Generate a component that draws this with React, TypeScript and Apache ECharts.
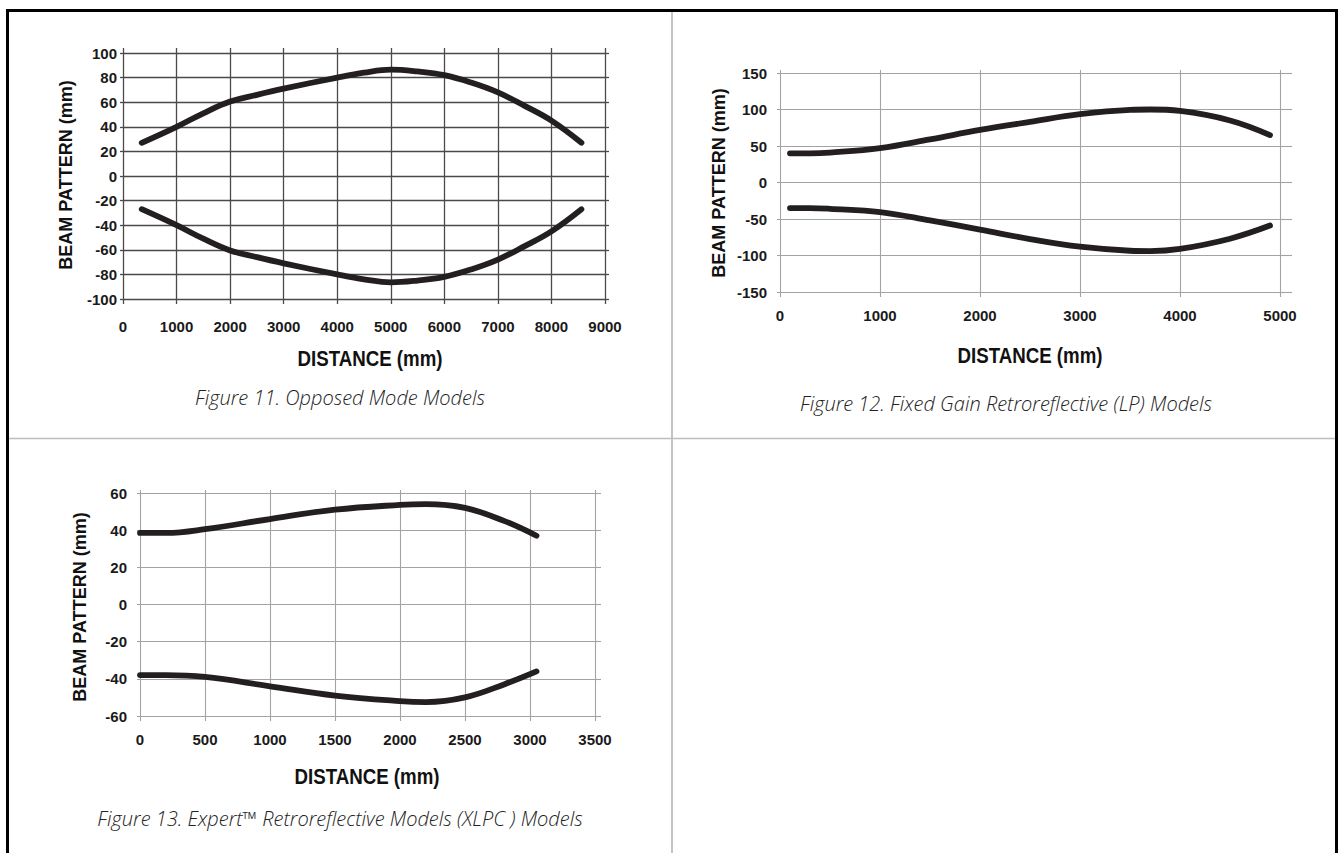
import React, { useEffect, useRef } from "react";
import * as echarts from "echarts";

// ---------- Data ----------
// Figure 11. Opposed Mode Models
const fig11Distance = [350, 1000, 1500, 2000, 2500, 3000, 4000, 4500, 5000, 5500, 6000, 6500, 7000, 7500, 8000, 8560];
const fig11Upper = [27, 40, 51, 60.5, 66, 71, 80, 84, 86.5, 85, 82, 76, 68, 57, 45, 27];
const fig11Lower = [-27, -40, -51, -60.5, -66, -71, -80, -84, -86.5, -85, -82, -76, -68, -57, -45, -27];

// Figure 12. Fixed Gain Retroreflective (LP) Models
const fig12Distance = [100, 300, 500, 1000, 1500, 2000, 2500, 3000, 3500, 3700, 4000, 4500, 4900];
const fig12Upper = [40, 40, 41, 47, 59, 72, 83, 93.5, 99.5, 100, 98, 85, 65];
const fig12Lower = [-35, -35, -36, -40.5, -52, -64.5, -77.5, -88, -93.5, -94, -91, -77, -59];

// Figure 13. Expert Retroreflective Models (XLPC) Models
const fig13Distance = [0, 200, 500, 1000, 1500, 2000, 2200, 2500, 2800, 3050];
const fig13Upper = [38.5, 38.5, 40.5, 46, 51, 53.6, 54, 52, 45, 37];
const fig13Lower = [-38, -38, -39, -44, -49, -52, -52.5, -50, -43, -36];

// Axis settings
const fig11XTicks = { min: 0, max: 9000, interval: 1000 };
const fig11YTicks = { min: -100, max: 100, interval: 20 };
const fig12XTicks = { min: 0, max: 5000, interval: 1000 };
const fig12YTicks = { min: -150, max: 150, interval: 50 };
const fig13XTicks = { min: 0, max: 3500, interval: 500 };
const fig13YTicks = { min: -60, max: 60, interval: 20 };

const xTitle = "DISTANCE (mm)";
const yTitle = "BEAM PATTERN (mm)";
const captions = [
  "Figure 11. Opposed Mode Models",
  "Figure 12. Fixed Gain Retroreflective (LP) Models",
  "Figure 13. Expert\u2122 Retroreflective Models (XLPC ) Models",
];

const SANS = "Liberation Sans";
const CAPTION_FONT = "Open Sans";
const CURVE = "#231f20";

const pairs = (xs: number[], ys: number[]) => xs.map((x, i) => [x, ys[i]]);

export default function App() {
  const ref = useRef<HTMLDivElement>(null);

  useEffect(() => {
    if (!ref.current) return;
    const chart = echarts.init(ref.current, undefined, { renderer: "svg" });

    const grids = [
      { left: 123, top: 53, width: 482, height: 246 },
      { left: 780, top: 73, width: 500, height: 219 },
      { left: 140, top: 493, width: 455, height: 223 },
    ];
    const xt = [fig11XTicks, fig12XTicks, fig13XTicks];
    const yt = [fig11YTicks, fig12YTicks, fig13YTicks];
    const gridColors = ["#4a4a4a", "#a3a3a3", "#a3a3a3"];
    const gridWidths = [1.3, 1.1, 1.1];
    const yLabelMargin = [6, 13, 13];
    const xLabelMargin = [20, 16, 16];
    const topTick = [5, 3, 3];
    const rightTick = [4, 12, 6];

    const labelStyle = (margin: number) => ({
      margin,
      color: "#1a1a1a",
      fontFamily: SANS,
      fontWeight: "bold",
      fontSize: 15,
      formatter: (v: number) => String(v),
    });

    const xAxes: any[] = [];
    const yAxes: any[] = [];
    for (let g = 0; g < 3; g++) {
      const lineStyle = { color: gridColors[g], width: gridWidths[g] };
      xAxes.push({
        type: "value",
        gridIndex: g,
        position: "bottom",
        ...xt[g],
        axisLine: { show: false, onZero: false },
        axisTick: { show: true, length: 5, lineStyle },
        splitLine: { show: true, lineStyle },
        axisLabel: labelStyle(xLabelMargin[g]),
      });
      xAxes.push({
        type: "value",
        gridIndex: g,
        position: "top",
        ...xt[g],
        axisLine: { show: false, onZero: false },
        axisTick: { show: true, length: topTick[g], lineStyle },
        splitLine: { show: false },
        axisLabel: { show: false },
      });
      yAxes.push({
        type: "value",
        gridIndex: g,
        position: "left",
        ...yt[g],
        axisLine: { show: false, onZero: false },
        axisTick: { show: true, length: 3, lineStyle },
        splitLine: { show: true, lineStyle },
        axisLabel: labelStyle(yLabelMargin[g]),
      });
      yAxes.push({
        type: "value",
        gridIndex: g,
        position: "right",
        ...yt[g],
        axisLine: { show: false, onZero: false },
        axisTick: { show: true, length: rightTick[g], lineStyle },
        splitLine: { show: false },
        axisLabel: { show: false },
      });
    }

    const curve = (g: number, data: number[][]) => ({
      type: "line",
      xAxisIndex: g * 2,
      yAxisIndex: g * 2,
      data,
      smooth: 0.4,
      symbol: "none",
      lineStyle: { color: CURVE, width: 5.8, cap: "round", join: "round" },
      z: 5,
    });

    const series = [
      curve(0, pairs(fig11Distance, fig11Upper)),
      curve(0, pairs(fig11Distance, fig11Lower)),
      curve(1, pairs(fig12Distance, fig12Upper)),
      curve(1, pairs(fig12Distance, fig12Lower)),
      curve(2, pairs(fig13Distance, fig13Upper)),
      curve(2, pairs(fig13Distance, fig13Lower)),
    ];

    const yTitlePos = [
      [66, 175],
      [719, 183],
      [80, 607],
    ];
    const xTitlePos = [
      [370, 358],
      [1030, 355],
      [367, 776],
    ];
    const captionPos = [
      [340, 397],
      [1006, 403],
      [340, 818],
    ];

    const graphic: any[] = [
      // frame
      { type: "line", shape: { x1: 6, y1: 10.5, x2: 1338, y2: 10.5 }, style: { stroke: "#000", lineWidth: 3 } },
      { type: "line", shape: { x1: 7.5, y1: 9, x2: 7.5, y2: 853 }, style: { stroke: "#000", lineWidth: 3 } },
      { type: "line", shape: { x1: 1336.5, y1: 9, x2: 1336.5, y2: 853 }, style: { stroke: "#000", lineWidth: 3 } },
      { type: "line", shape: { x1: 672, y1: 12, x2: 672, y2: 853 }, style: { stroke: "#c4c4c4", lineWidth: 2 } },
      { type: "line", shape: { x1: 9, y1: 438.5, x2: 1335, y2: 438.5 }, style: { stroke: "#bdbdbd", lineWidth: 1.5 } },
    ];
    for (let g = 0; g < 3; g++) {
      graphic.push({
        type: "text",
        x: yTitlePos[g][0],
        y: yTitlePos[g][1],
        rotation: Math.PI / 2,
        style: {
          text: yTitle,
          fill: "#111",
          fontFamily: SANS,
          fontWeight: "bold",
          fontSize: 18,
          textAlign: "center",
          textVerticalAlign: "middle",
        },
      });
      graphic.push({
        type: "text",
        x: xTitlePos[g][0],
        y: xTitlePos[g][1],
        scaleX: 0.85,
        style: {
          text: xTitle,
          fill: "#111",
          fontFamily: SANS,
          fontWeight: "bold",
          fontSize: 22,
          textAlign: "center",
          textVerticalAlign: "middle",
        },
      });
      graphic.push({
        type: "text",
        x: captionPos[g][0],
        y: captionPos[g][1],
        style: {
          text: captions[g],
          fill: "#222",
          fontFamily: CAPTION_FONT,
          fontStyle: "italic",
          fontWeight: 300,
          fontSize: 20,
          textAlign: "center",
          textVerticalAlign: "middle",
        },
      });
    }

    chart.setOption({
      animation: false,
      backgroundColor: "#fff",
      grid: grids.map((g) => ({ ...g, containLabel: false })),
      xAxis: xAxes,
      yAxis: yAxes,
      series,
      graphic,
    });

    return () => chart.dispose();
  }, []);

  return (
    <div
      ref={ref}
      style={{ position: "fixed", left: 0, top: 0, width: 1338, height: 853, background: "#fff" }}
    />
  );
}
